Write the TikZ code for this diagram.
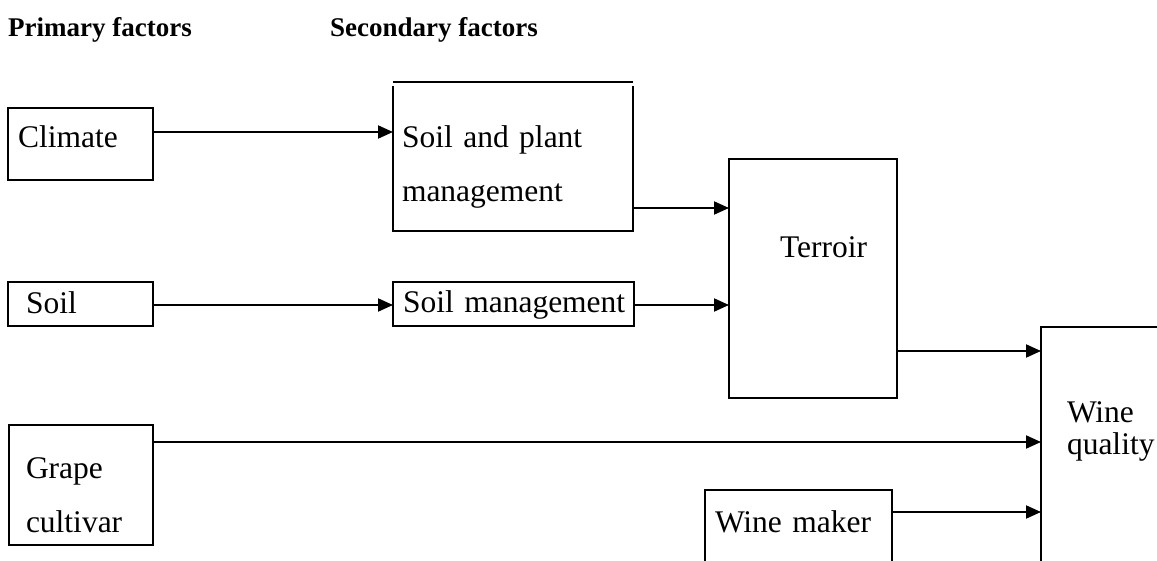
\documentclass[tikz,border=0pt]{standalone}
\usepackage{fontspec}
\setmainfont{Liberation Serif}
\usetikzlibrary{arrows.meta}

\begin{document}
\begin{tikzpicture}[x=1pt,y=-1pt,
    factor/.style={draw,line width=2pt,outer sep=0pt,inner ysep=0pt,
      anchor=north west,align=left,
      font=\fontsize{31.5}{54}\selectfont},
    bare/.style={factor,draw=none},
    edge/.style={line width=2pt},
    flow/.style={-{Triangle[length=15pt,width=13pt]},line width=2pt},
    heading/.style={anchor=base west,inner sep=0pt,
      font=\fontsize{27}{32}\selectfont\bfseries}
  ]
  \useasboundingbox (0,0) rectangle (1157,561);
  \node[heading] (primary) at (8,37) {Primary factors};
  \node[heading] (secondary) at (330,37) {Secondary factors};

  \node[factor,minimum height=72pt,inner xsep=10pt,text width=125pt,
    text height=20pt,text depth=12pt] (climate) at (8,108) {Climate};
  \node[factor,minimum height=44pt,inner xsep=18pt,text width=109pt,
    text height=22pt,text depth=2pt] (soil) at (8,282) {Soil};
  \node[factor,minimum height=120pt,inner xsep=17pt,text width=110pt,
    text height=22pt,text depth=36pt] (grape) at (9,425) {Grape\\cultivar};

  \node[bare,minimum height=145pt,inner xsep=9pt,text width=222pt,
    text height=22pt,text depth=43pt] (plant) at (393,86)
    {Soil and plant\\management};
  \node[factor,minimum height=44pt,inner xsep=10pt,text width=221pt,
    text height=22pt,text depth=4pt] (mgmt) at (393,282)
    {\mbox{Soil management}};

  \node[factor,minimum height=239pt,inner xsep=51pt,text width=66pt,
    text height=21pt,text depth=62pt] (terroir) at (729,159) {Terroir};
  \node[bare,minimum height=76pt,inner xsep=10pt,text width=167pt,
    text height=20pt,text depth=12pt] (maker) at (705,490) {Wine maker};
  \node[bare,minimum height=239pt,inner xsep=26pt,text width=107pt,
    text height=20pt,text depth=69pt,font=\fontsize{31.5}{32}\selectfont]
    (quality) at (1041,327) {Wine\\quality};

  \draw[edge] ([yshift=4pt]plant.north west) -- ([yshift=4pt]plant.north east);
  \draw[edge] (plant.north west) -- (plant.south west) -- (plant.south east)
    -- (plant.north east);
  \draw[edge] (maker.south west) -- (maker.north west) -- (maker.north east)
    -- (maker.south east);
  \draw[edge] (quality.south west) -- (quality.north west)
    -- (quality.north east);

  \draw[flow] ([yshift=12pt]climate.east) -- ([yshift=26.5pt]plant.west);
  \draw[flow] ([yshift=-1pt]soil.east) -- ([yshift=-1pt]mgmt.west);
  \draw[flow] ([yshift=-49.5pt]plant.east) -- ([yshift=70.5pt]terroir.west);
  \draw[flow] ([yshift=-1pt]mgmt.east) -- ([yshift=-26.5pt]terroir.west);
  \draw[flow] ([yshift=-72.5pt]terroir.east) -- ([yshift=95.5pt]quality.west);
  \draw[flow] ([yshift=43pt]grape.east) -- ([yshift=4.5pt]quality.west);
  \draw[flow] ([yshift=16pt]maker.east) -- ([yshift=-65.5pt]quality.west);
\end{tikzpicture}
\end{document}
